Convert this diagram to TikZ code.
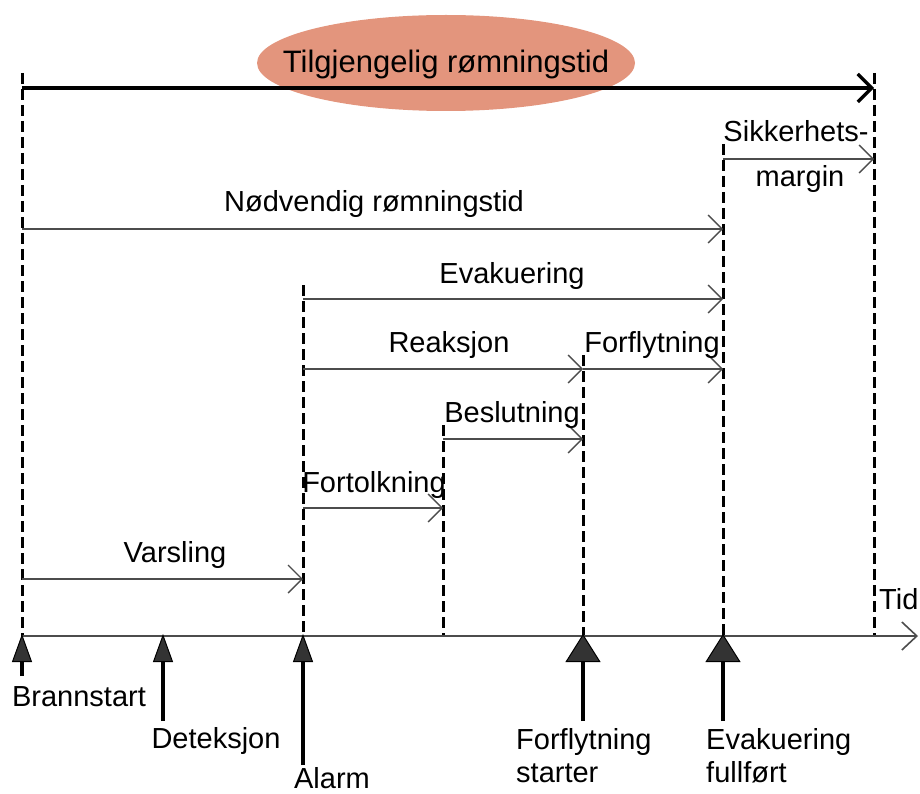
\documentclass[tikz,border=0pt]{standalone}
\usepackage{fontspec}
\setmainfont{Liberation Sans}
\usetikzlibrary{arrows.meta,shapes.geometric}
\definecolor{salmon}{HTML}{E3957D}
\begin{document}
\begin{tikzpicture}[x=1pt,y=-1pt,
  font=\fontsize{29}{33}\selectfont,
  dashv/.style={line width=3pt, dash pattern=on 11pt off 5pt},
  span/.style={line width=1.4pt, draw=black!70, -{Straight Barb[length=14pt,width=28pt,line width=1.4pt]}},
  bigspan/.style={line width=3.2pt, draw=black, -{Straight Barb[length=14pt,width=28pt,line width=3.2pt]}},
  evt/.style={line width=3.5pt, -{Triangle[length=28pt,width=20pt,fill=black!80,line width=1pt]}},
  bigevt/.style={line width=3.5pt, -{Triangle[length=28pt,width=35pt,fill=black!80,line width=1pt]}},
  lbl/.style={anchor=base, inner sep=0pt}]
\useasboundingbox (0,0) rectangle (920,794);

% coordinates: dashed lines
\coordinate (d0t) at (22,73);   \coordinate (d0b) at (22,636);
\coordinate (d1t) at (303,285); \coordinate (d1b) at (303,636);
\coordinate (d2t) at (443,425); \coordinate (d2b) at (443,636);
\coordinate (d3t) at (583,355); \coordinate (d3b) at (583,636);
\coordinate (d4t) at (723,144); \coordinate (d4b) at (723,636);
\coordinate (d5t) at (874,73);  \coordinate (d5b) at (874,636);

\foreach \i in {0,...,5} {\draw[dashv] (d\i t) -- (d\i b);}

% ellipse
\node[ellipse, fill=salmon, minimum width=378pt, minimum height=96pt, inner sep=0pt] (ell) at (446,63) {};
\node[lbl, font=\fontsize{31}{36}\selectfont] (tilg) at (446,73) {Tilgjengelig rømningstid};

% span arrows
\coordinate (a0s) at (22,88);   \coordinate (a0e) at (874,88);
\draw[bigspan] (a0s) -- (a0e);
\coordinate (sks) at (723,159); \coordinate (ske) at (874,159);
\draw[span] (sks) -- (ske);
\coordinate (nds) at (22,229);  \coordinate (nde) at (723,229);
\draw[span] (nds) -- (nde);
\coordinate (evs) at (303,299); \coordinate (eve) at (723,299);
\draw[span] (evs) -- (eve);
\coordinate (res) at (303,369); \coordinate (ree) at (583,369);
\draw[span] (res) -- (ree);
\coordinate (ffs) at (583,369); \coordinate (ffe) at (723,369);
\draw[span] (ffs) -- (ffe);
\coordinate (bes) at (443,439); \coordinate (bee) at (583,439);
\draw[span] (bes) -- (bee);
\coordinate (fos) at (303,508); \coordinate (foe) at (443,508);
\draw[span] (fos) -- (foe);
\coordinate (vas) at (22,579);  \coordinate (vae) at (303,579);
\draw[span] (vas) -- (vae);

% axis
\coordinate (ax0) at (22,636); \coordinate (ax1) at (918,636);
\draw[line width=1.6pt, draw=black!70, -{Straight Barb[length=15pt,width=28pt,line width=1.6pt]}] (ax0) -- (ax1);

% labels
\node[lbl] (sik) at (796,142) {Sikkerhets-};
\node[lbl] (mar) at (800,187) {margin};
\node[lbl] (nod) at (374,212) {Nødvendig rømningstid};
\node[lbl] (eva) at (512,283) {Evakuering};
\node[lbl] (rea) at (449,352) {Reaksjon};
\node[lbl] (forf) at (652,352) {Forflytning};
\node[lbl] (bes) at (512,422) {Beslutning};
\node[lbl] (fort) at (374,492) {Fortolkning};
\node[lbl] (var) at (175,562) {Varsling};
\node[anchor=base west, inner sep=0pt] (tid) at (879,609) {Tid};

% event arrows
\coordinate (e0) at (22,676);  \coordinate (e0t) at (22,634);
\coordinate (e1) at (163,721); \coordinate (e1t) at (163,634);
\coordinate (e2) at (303,765); \coordinate (e2t) at (303,634);
\coordinate (e3) at (583,721); \coordinate (e3t) at (583,634);
\coordinate (e4) at (723,721); \coordinate (e4t) at (723,634);
\draw[evt] (e0) -- (e0t);
\draw[evt] (e1) -- (e1t);
\draw[evt] (e2) -- (e2t);
\draw[bigevt] (e3) -- (e3t);
\draw[bigevt] (e4) -- (e4t);

\node[lbl] (bran) at (79,706) {Brannstart};
\node[lbl] (det) at (216,748) {Deteksjon};
\node[lbl] (ala) at (332,788) {Alarm};
\node[anchor=base west, inner sep=0pt, align=left] (fst) at (516,782) {Forflytning\\starter};
\node[anchor=base west, inner sep=0pt, align=left] (eff) at (706,782) {Evakuering\\fullført};
\end{tikzpicture}
\end{document}
